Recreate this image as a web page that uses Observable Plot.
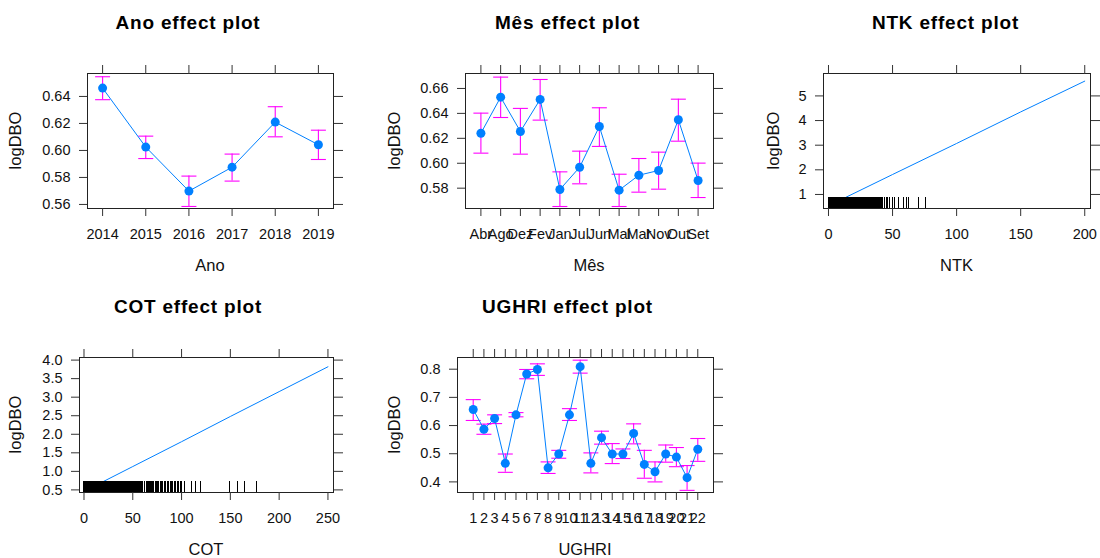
<!DOCTYPE html>
<html><head><meta charset="utf-8">
<script src="https://cdn.jsdelivr.net/npm/d3@7"></script>
<script src="https://cdn.jsdelivr.net/npm/@observablehq/plot@0.6"></script>
<style>
body{margin:0;background:#fff;}
#root{position:relative;width:1100px;height:558px;overflow:hidden;font-family:"Liberation Sans",Arial,sans-serif;}
#root svg{position:absolute;}
</style>
</head><body><div id="root"></div>
<script>
// ---------- data ----------
const anoLevels = ["2014","2015","2016","2017","2018","2019"];
const anoFit   = [0.6462,0.6025,0.5699,0.5876,0.6210,0.6042];
const anoLower = [0.6376,0.5940,0.5585,0.5773,0.6101,0.5933];
const anoUpper = [0.6546,0.6106,0.5810,0.5973,0.6324,0.6150];

const mesLevels = ["Abr","Ago","Dez","Fev","Jan","Jul","Jun","Mai","Mar","Nov","Out","Set"];
const mesFit   = [0.6241,0.6530,0.6255,0.6512,0.5789,0.5968,0.6295,0.5784,0.5904,0.5942,0.6349,0.5862];
const mesLower = [0.6081,0.6367,0.6073,0.6346,0.5653,0.5835,0.6135,0.5653,0.5768,0.5792,0.6177,0.5725];
const mesUpper = [0.6402,0.6691,0.6440,0.6672,0.5931,0.6097,0.6445,0.5912,0.6038,0.6089,0.6514,0.6001];

const ughriLevels = ["1","2","3","4","5","6","7","8","9","10","11","12","13","14","15","16","17","18","19","20","21","22"];
const ughriFit   = [0.657,0.587,0.625,0.466,0.638,0.783,0.799,0.450,0.499,0.638,0.809,0.466,0.557,0.499,0.499,0.572,0.462,0.436,0.499,0.488,0.415,0.516];
const ughriLower = [0.618,0.569,0.607,0.434,0.631,0.766,0.778,0.430,0.484,0.618,0.786,0.432,0.534,0.465,0.483,0.535,0.413,0.400,0.470,0.454,0.370,0.473];
const ughriUpper = [0.692,0.605,0.638,0.499,0.646,0.799,0.819,0.471,0.512,0.660,0.832,0.503,0.580,0.536,0.517,0.606,0.512,0.471,0.531,0.522,0.458,0.554];

const ntkX   = [0, 50, 100, 150, 200];
const ntkFit = [0.54, 1.81, 3.07, 4.35, 5.60];
const ntkRug = [0,0.6,1.3,1.9,2.5,3.2,3.8,4.4,5.1,5.7,6.3,7.0,7.6,8.3,8.9,9.5,10.2,10.8,11.4,12.1,12.7,13.4,14.0,14.6,15.3,15.9,16.5,17.2,17.8,18.5,19.1,19.7,20.4,21.0,21.6,22.3,22.9,23.6,24.2,24.8,25.5,26.1,26.7,27.4,28.0,28.7,29.3,29.9,30.6,31.2,31.8,32.5,33.1,33.8,34.4,35.0,35.7,36.3,36.9,37.6,38.2,38.9,39.5,40.5,41.2,42.4,43.5,45.0,46.2,47.6,49.7,51.5,54.9,58.6,60.7,62.5,70.6,75.6];

const cotX   = [0, 50, 100, 150, 200, 250];
const cotFit = [0.46, 1.13, 1.80, 2.48, 3.15, 3.82];
const cotRug = [0,0.9,1.8,2.7,3.6,4.5,5.4,6.3,7.2,8.1,9.0,9.9,10.8,11.7,12.6,13.5,14.4,15.3,16.2,17.1,18.0,18.9,19.8,20.7,21.6,22.5,23.4,24.3,25.2,26.1,27.0,27.9,28.8,29.7,30.6,31.5,32.4,33.3,34.2,35.1,36.0,36.9,37.8,38.7,39.6,40.5,41.4,42.3,43.2,44.1,45.0,45.9,46.8,47.7,48.6,49.5,50.4,51.3,52.2,53.1,54.0,54.9,55.8,56.7,57.6,58.5,59.4,60.3,61.5,62.4,63.8,64.6,65.9,67.1,68.0,69.4,70.2,71.7,72.9,74.0,75.6,76.5,78.1,79.3,80.8,82.0,83.7,85.1,86.4,88.2,89.5,91.0,92.6,94.1,95.5,97.0,98.4,99.6,103.0,110.5,114.6,119.7,149.6,157.8,164.6,176.5];

const yTicksAno = [0.56,0.58,0.60,0.62,0.64];
const yTicksMes = [0.58,0.60,0.62,0.64,0.66];
const yTicksNtk = [1,2,3,4,5];
const xTicksNtk = [0,50,100,150,200];
const yTicksCot = [0.5,1.0,1.5,2.0,2.5,3.0,3.5,4.0];
const xTicksCot = [0,50,100,150,200,250];
const yTicksUghri = [0.4,0.5,0.6,0.7,0.8];

// ---------- helpers ----------
const root = document.getElementById("root");
const BLUE = "#0080ff", MAG = "#ff00ff";
const capSymbol = {draw(ctx){ ctx.moveTo(-7.5,0); ctx.lineTo(7.5,0); }};

function factorRows(levels, fit, lower, upper){
  return levels.map((l,i)=>({i:i+1, label:l, fit:fit[i], lower:lower[i], upper:upper[i]}));
}
function factorMarks(rows){
  return [
    Plot.ruleX(rows,{x:"i", y1:"lower", y2:"upper", stroke:MAG, strokeWidth:1.1}),
    Plot.dot(rows,{x:"i", y:"lower", symbol:capSymbol, stroke:MAG, fill:"none", strokeWidth:1.1}),
    Plot.dot(rows,{x:"i", y:"upper", symbol:capSymbol, stroke:MAG, fill:"none", strokeWidth:1.1}),
    Plot.line(rows,{x:"i", y:"fit", stroke:BLUE, strokeWidth:1}),
    Plot.dot(rows,{x:"i", y:"fit", r:4.5, fill:BLUE, stroke:"none"})
  ];
}
function numericMarks(xs, fit, rug, innerH){
  const rows = xs.map((x,i)=>({x, fit:fit[i]}));
  return [
    Plot.line(rows,{x:"x", y:"fit", stroke:BLUE, strokeWidth:1}),
    Plot.tickX(rug,{x:d=>d, stroke:"#000", strokeWidth:1, shapeRendering:"crispEdges", insetTop: innerH-11})
  ];
}

function panel(cfg){
  const {boxL, boxR, boxT, boxB, xDomain, yDomain, xTicks, xFormat, yTicks, yFormat, marks} = cfg;
  const mL = 70, mR = 20, mT = 20, mB = 40;
  const noLab = () => "";
  const plot = Plot.plot({
    width: boxR - boxL + mL + mR,
    height: boxB - boxT + mT + mB,
    marginLeft: mL, marginRight: mR, marginTop: mT, marginBottom: mB,
    x: {domain: xDomain, axis: null},
    y: {domain: yDomain, axis: null},
    style: {fontFamily: "'Liberation Sans', Arial, sans-serif", fontSize: "14.5px", color: "#000", background: "transparent", overflow: "visible"},
    marks: [
      ...marks,
      Plot.frame({stroke: "#222", strokeWidth: 1}),
      Plot.axisX(xTicks, {anchor: "bottom", tickSize: 8, tickPadding: 12, tickFormat: xFormat, label: null, stroke: "#333", fill: "#111"}),
      Plot.axisX(xTicks, {anchor: "top", tickSize: 9, tickFormat: noLab, label: null, stroke: "#333"}),
      Plot.axisY(yTicks, {anchor: "left", tickSize: 8, tickPadding: 9, tickFormat: yFormat, label: null, stroke: "#333", fill: "#111"}),
      Plot.axisY(yTicks, {anchor: "right", tickSize: 9, tickFormat: noLab, label: null, stroke: "#333"})
    ]
  });
  plot.style.left = (boxL - mL) + "px";
  plot.style.top = (boxT - mT) + "px";
  root.appendChild(plot);
}

// ---------- panels ----------
const anoRows = factorRows(anoLevels, anoFit, anoLower, anoUpper);
panel({boxL:87, boxR:333, boxT:73, boxB:208,
  xDomain:[0.65, anoLevels.length + 0.35], yDomain:[0.557, 0.657],
  xTicks: anoRows.map(d=>d.i), xFormat: i => anoLevels[i-1],
  yTicks: yTicksAno, yFormat: d3.format(".2f"),
  marks: factorMarks(anoRows)});

const mesRows = factorRows(mesLevels, mesFit, mesLower, mesUpper);
panel({boxL:465, boxR:713, boxT:73, boxB:208,
  xDomain:[0.22, mesLevels.length + 0.78], yDomain:[0.5637, 0.672],
  xTicks: mesRows.map(d=>d.i), xFormat: i => mesLevels[i-1],
  yTicks: yTicksMes, yFormat: d3.format(".2f"),
  marks: factorMarks(mesRows)});

panel({boxL:823, boxR:1090, boxT:73, boxB:208,
  xDomain:[-3.9, 204.5], yDomain:[0.43, 5.91],
  xTicks: xTicksNtk, xFormat: d3.format("d"),
  yTicks: yTicksNtk, yFormat: d3.format("d"),
  marks: numericMarks(ntkX, ntkFit, ntkRug, 208-73)});

panel({boxL:79, boxR:333, boxT:357, boxB:492,
  xDomain:[-4.6, 255.7], yDomain:[0.43, 4.07],
  xTicks: xTicksCot, xFormat: d3.format("d"),
  yTicks: yTicksCot, yFormat: d3.format(".1f"),
  marks: numericMarks(cotX, cotFit, cotRug, 492-357)});

const ughriRows = factorRows(ughriLevels, ughriFit, ughriLower, ughriUpper);
panel({boxL:457, boxR:713, boxT:357, boxB:492,
  xDomain:[-0.47, ughriLevels.length + 1.47], yDomain:[0.3624, 0.8415],
  xTicks: ughriRows.map(d=>d.i), xFormat: i => ughriLevels[i-1],
  yTicks: yTicksUghri, yFormat: d3.format(".1f"),
  marks: factorMarks(ughriRows)});

// ---------- titles & axis titles ----------
const titles = [
  {t:"Ano effect plot", x:188, y:29},
  {t:"Mês effect plot", x:567.5, y:29},
  {t:"NTK effect plot", x:945.5, y:29},
  {t:"COT effect plot", x:188, y:313},
  {t:"UGHRI effect plot", x:567.5, y:313}
];
const xTitles = [
  {t:"Ano", x:210, y:271}, {t:"Mês", x:589, y:271}, {t:"NTK", x:956.5, y:271},
  {t:"COT", x:206, y:555}, {t:"UGHRI", x:585, y:555}
];
const yTitles = [
  {t:"logDBO", x:20.5, y:140.5}, {t:"logDBO", x:400, y:140.5}, {t:"logDBO", x:778.5, y:140.5},
  {t:"logDBO", x:20.5, y:424.5}, {t:"logDBO", x:399.5, y:424.5}
];
const ov = d3.select(root).append("svg").attr("width",1100).attr("height",558)
  .style("left","0px").style("top","0px").style("pointer-events","none")
  .style("font-family","'Liberation Sans', Arial, sans-serif");
ov.selectAll("text.title").data(titles).join("text").attr("class","title")
  .attr("x",d=>d.x).attr("y",d=>d.y).attr("text-anchor","middle")
  .attr("font-weight","bold").attr("font-size",19).attr("letter-spacing",0.8)
  .attr("fill","#000").text(d=>d.t);
ov.selectAll("text.xt").data(xTitles).join("text").attr("class","xt")
  .attr("x",d=>d.x).attr("y",d=>d.y).attr("text-anchor","middle")
  .attr("font-size",16.5).attr("fill","#111").text(d=>d.t);
ov.selectAll("text.yt").data(yTitles).join("text").attr("class","yt")
  .attr("transform",d=>`translate(${d.x},${d.y}) rotate(-90)`).attr("text-anchor","middle")
  .attr("font-size",16.5).attr("fill","#111").text(d=>d.t);
</script>
</body></html>
